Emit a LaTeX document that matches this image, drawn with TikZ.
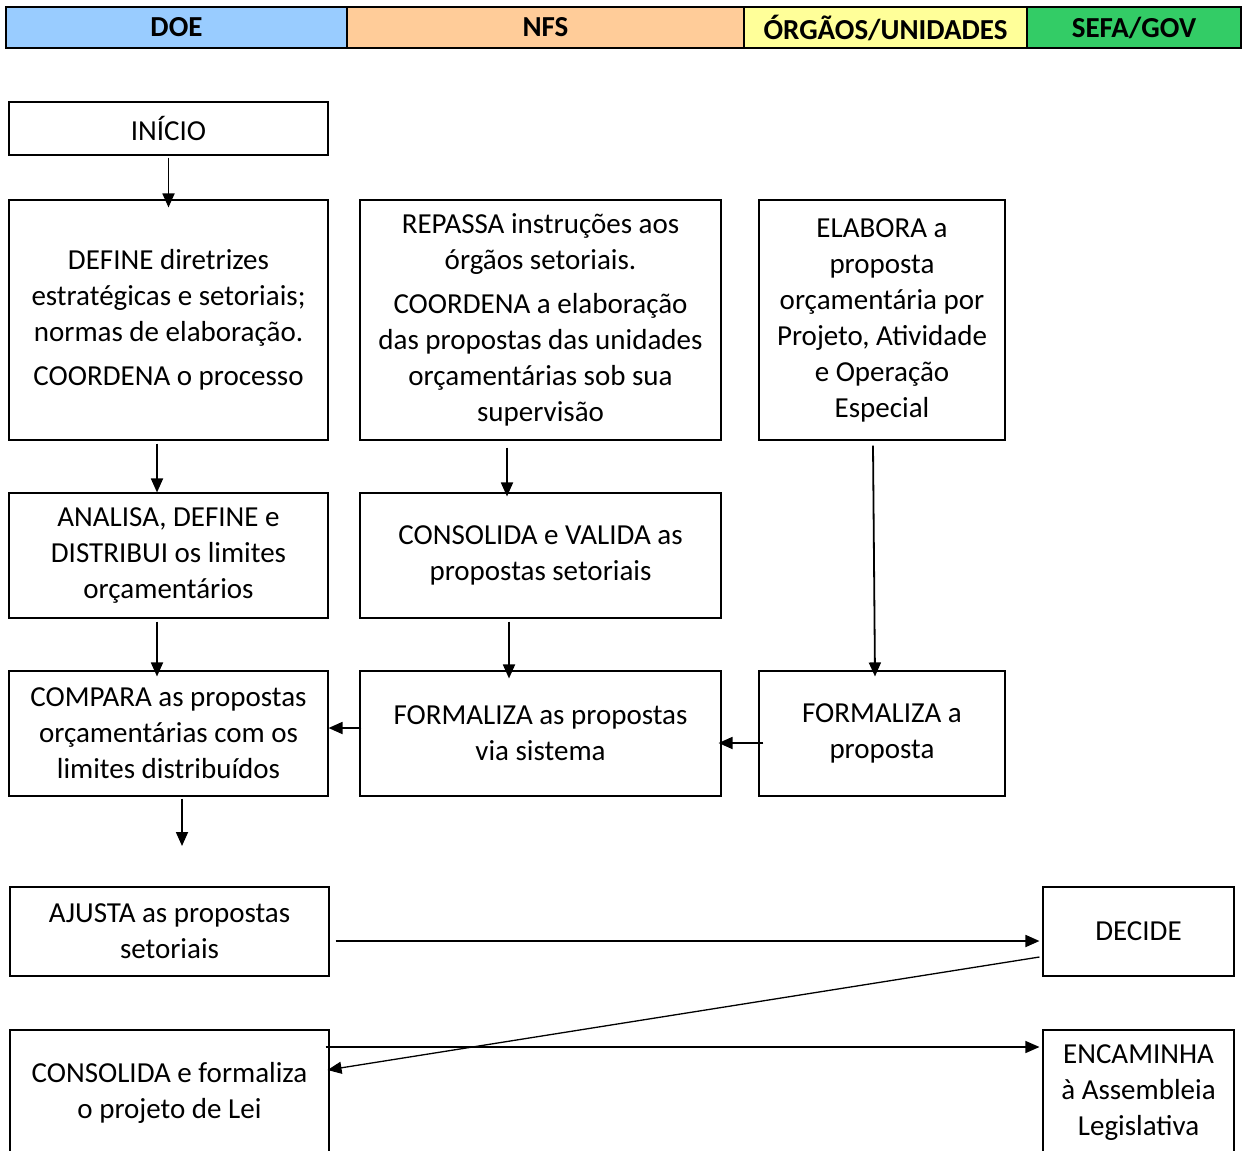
\documentclass[tikz,border=0pt]{standalone}
\usepackage{fontspec}
\setmainfont{Carlito}
\usetikzlibrary{arrows.meta}
\definecolor{doecolor}{HTML}{99CCFF}
\definecolor{nfscolor}{HTML}{FFCC99}
\definecolor{orgcolor}{HTML}{FFFF99}
\definecolor{sefacolor}{HTML}{33CC66}
\tikzset{>={Triangle[length=14pt,width=12pt]}}
\tikzset{
	lane/.style = {draw, line width=2.2pt, minimum height=41pt, inner sep=0pt, font=\fontsize{29}{36}\selectfont\bfseries},
	box/.style = {draw, line width=1.1pt, align=center, inner sep=0pt, font=\fontsize{29}{36}\selectfont},
	flow/.style = {->, line width=1.8pt}
}

\begin{document}
\begin{tikzpicture}[x=1pt, y=-1pt]
	\useasboundingbox (0,0) rectangle (1245,1151);
	\clip (0,0) rectangle (1245,1151);
	% header
	\node[lane, fill=doecolor, minimum width=341pt] (doe) at (176.5,27.5) {DOE};
	\node[lane, fill=nfscolor, minimum width=397pt] (nfs) at (545.5,27.5) {NFS};
	\node[lane, fill=orgcolor, minimum width=283pt] (org) at (885.5,27.5) {ÓRGÃOS/UNIDADES};
	\node[lane, fill=sefacolor, minimum width=214pt] (sefa) at (1134,27.5) {SEFA/GOV};
	% boxes
	\node[box, minimum width=319pt, minimum height=53pt] (inicio) at (168.5,128.5) {INÍCIO};
	\node[box, minimum width=319pt, minimum height=240pt] (define) at (168.5,320) {DEFINE diretrizes\\ estratégicas e setoriais;\\ normas de elaboração.\\[8pt] COORDENA o processo};
	\node[box, minimum width=361pt, minimum height=240pt] (repassa) at (540.5,320) {REPASSA instruções aos\\ órgãos setoriais.\\[8pt] COORDENA a elaboração\\ das propostas das unidades\\ orçamentárias sob sua\\ supervisão};
	\node[box, minimum width=246pt, minimum height=240pt] (elabora) at (882,320) {ELABORA a\\ proposta\\ orçamentária por\\ Projeto, Atividade\\ e Operação\\ Especial};
	\node[box, minimum width=319pt, minimum height=125pt] (analisa) at (168.5,555.5) {ANALISA, DEFINE e\\ DISTRIBUI os limites\\ orçamentários};
	\node[box, minimum width=361pt, minimum height=125pt] (consvalida) at (540.5,555.5) {CONSOLIDA e VALIDA as\\ propostas setoriais};
	\node[box, minimum width=319pt, minimum height=125pt] (compara) at (168.5,733.5) {COMPARA as propostas\\ orçamentárias com os\\ limites distribuídos};
	\node[box, minimum width=361pt, minimum height=125pt] (formsist) at (540.5,733.5) {FORMALIZA as propostas\\ via sistema};
	\node[box, minimum width=246pt, minimum height=125pt] (formprop) at (882,733.5) {FORMALIZA a\\ proposta};
	\node[box, minimum width=319pt, minimum height=89pt] (ajusta) at (169.5,931.5) {AJUSTA as propostas\\ setoriais};
	\node[box, minimum width=191pt, minimum height=89pt] (decide) at (1138.5,931.5) {DECIDE};
	\node[box, minimum width=319pt, minimum height=126pt] (conslei) at (169.5,1093) {CONSOLIDA e formaliza\\ o projeto de Lei};
	\node[box, minimum width=191pt, minimum height=126pt] (encaminha) at (1138.5,1093) {ENCAMINHA\\ à Assembleia\\ Legislativa};
	\coordinate (comparaout) at (182,846);
	% arrows
	\draw[flow] ([yshift=-2pt]inicio.south) -- ([yshift=-8pt]define.north);
	\draw[flow] ([xshift=-11.5pt,yshift=-3pt]define.south) -- ([xshift=-11.5pt]analisa.north);
	\draw[flow] ([xshift=-33.5pt,yshift=-7pt]repassa.south) -- ([xshift=-33.5pt,yshift=-4pt]consvalida.north);
	\draw[flow] ([xshift=-9pt,yshift=-5pt]elabora.south) -- ([xshift=-7pt,yshift=-6pt]formprop.north);
	\draw[flow] ([xshift=-11.5pt,yshift=-3pt]analisa.south) -- ([xshift=-11.5pt,yshift=-6pt]compara.north);
	\draw[flow] ([xshift=-31.5pt,yshift=-3pt]consvalida.south) -- ([xshift=-31.5pt,yshift=-8pt]formsist.north);
	\draw[flow] ([xshift=2pt,yshift=5.5pt]formsist.west) -- ([yshift=5.5pt]compara.east);
	\draw[flow] ([xshift=5pt,yshift=-9.5pt]formprop.west) -- ([xshift=-3pt,yshift=-9.5pt]formsist.east);
	\draw[flow] ([xshift=13.5pt,yshift=-2pt]compara.south) -- (comparaout);
	\draw[flow] ([xshift=6pt,yshift=-9.5pt]ajusta.east) -- ([xshift=-3pt,yshift=-9.5pt]decide.west);
	\draw[flow, line width=1.3pt] ([xshift=-3pt,yshift=-25.5pt]decide.west) -- ([xshift=-2pt,yshift=23pt]conslei.east);
	\draw[flow, line width=1.3pt] ([xshift=-4pt,yshift=46pt]conslei.east) -- ([xshift=-3pt,yshift=46pt]encaminha.west);
\end{tikzpicture}
\end{document}
